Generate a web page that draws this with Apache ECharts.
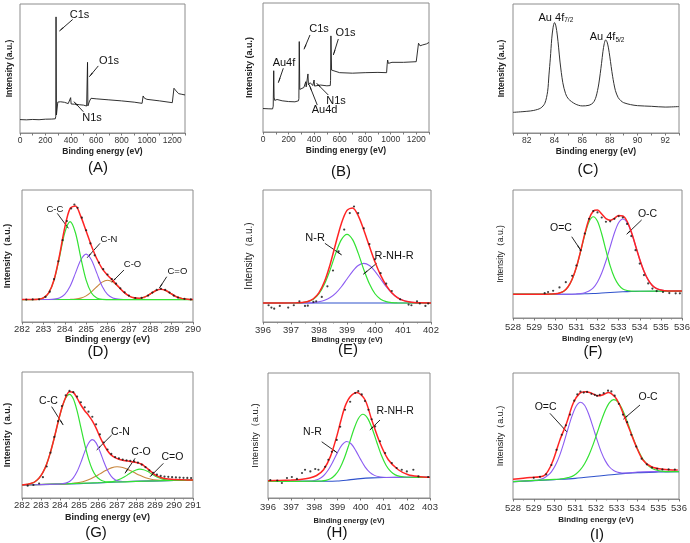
<!DOCTYPE html>
<html><head><meta charset="utf-8">
<script src="https://cdn.jsdelivr.net/npm/echarts@6/dist/echarts.min.js"></script>
<style>html,body{margin:0;padding:0;background:#fff}#c{width:690px;height:543px}</style>
</head><body><div id="c"></div>
<script>
// ---------------- DATA ----------------
// (A) survey spectrum
const aSurvey = [[0,10.4],[50,10.2],[100,10.5],[150,10.3],[200,10.7],[250,10.8],[278,11.0],[282,13],[284,90],[287,14],[292,13],[298,24],[305,25.2],[320,24.2],[350,23.8],[380,22.8],[395,23.2],[399,27.4],[403,22.5],[430,22.3],[470,21.9],[500,21.6],[525,20.9],[529,22],[532,54.8],[535,21],[540,19.6],[548,24.8],[560,26.9],[600,26.5],[700,25.7],[800,24.9],[900,23.9],[962,23.0],[966,24],[970,28.7],[980,27],[1000,26.1],[1100,24.9],[1200,23.5],[1208,23.0],[1213,34.7],[1230,32.6],[1250,30.5],[1275,30],[1300,29.5]];
// (B) survey spectrum
const bSurvey = [[0,18.2],[40,18.0],[75,17.9],[80,20],[84,47.5],[87,27],[92,24.5],[110,25.2],[150,24.2],[200,23.6],[250,23.4],[278,24.2],[281,26],[284,70.1],[288,33],[300,32],[320,34.5],[332,35],[335,39],[338,35],[348,36],[352,45],[356,36.4],[370,38.2],[390,36],[397,36.5],[400,40.3],[404,35.6],[450,36.4],[500,35.8],[527,36],[529,40],[532,74.5],[537,48],[545,46.8],[600,46],[700,45.6],[800,46],[900,46.2],[968,46],[972,52],[976,55.8],[982,53.2],[995,54.5],[1010,54],[1100,54],[1200,54.5],[1212,55],[1218,68.8],[1230,66.8],[1250,67.5],[1280,68.3],[1300,69.4]];
// (C) Au 4f
const cAu4f = [[81,16.0],[82,16.8],[82.5,17.5],[83,19.3],[83.3,23],[83.5,32],[83.6,45],[83.7,58],[83.8,73],[83.9,82],[84.0,85.6],[84.1,83],[84.2,76],[84.3,66],[84.4,55],[84.6,39],[84.8,30.5],[85,26.5],[85.5,22.5],[86,21],[86.5,21.5],[86.8,23.5],[87.0,28],[87.2,38],[87.4,54],[87.5,63],[87.6,69.5],[87.7,72.2],[87.8,70.5],[87.9,66],[88.0,59],[88.2,44],[88.4,33],[88.6,27.5],[88.8,25],[89,23.5],[89.5,22],[90,21.2],[91,20.7],[92,20.1],[93,20.5]];
// (D) C1s
const dBase = [[282,17],[290,17]];
const dCC = [[282,17],[282.75,17.2],[283,18.2],[283.25,22.0],[283.5,31.7],[283.75,48.8],[284,67.6],[284.25,76],[284.5,67.6],[284.75,48.8],[285,31.7],[285.25,22.0],[285.5,18.2],[285.75,17.2],[286.25,17],[290,17]];
const dCN = [[282,17],[283.25,17.1],[283.5,17.3],[283.75,18.2],[284,20.9],[284.25,27.1],[284.5,37],[284.75,47],[285,51.4],[285.25,47],[285.5,37],[285.75,27.1],[286,20.9],[286.25,18.2],[286.5,17.3],[286.75,17.1],[290,17]];
const dCO = [[282,17],[284,17.05],[284.25,17.1],[284.5,17.35],[284.75,18.1],[285,19.8],[285.25,22.8],[285.5,26.7],[285.75,30.2],[286,31.6],[286.25,30.2],[286.5,26.7],[286.75,22.8],[287,19.8],[287.25,18.1],[287.5,17.35],[287.75,17.1],[288,17.05],[290,17]];
const dC2O = [[282,17],[287,17.05],[287.25,17.2],[287.5,17.7],[287.75,18.9],[288,21.2],[288.25,23.7],[288.5,24.8],[288.75,23.7],[289,21.2],[289.25,18.9],[289.5,17.7],[289.75,17.2],[290,17.05]];
const dEnv = [[282,17],[282.5,17.05],[282.75,17.2],[283,18.2],[283.25,22.0],[283.5,32.0],[283.75,50.0],[284,71.5],[284.25,86.1],[284.5,87.9],[284.75,80.0],[285,68.9],[285.25,57.6],[285.5,47.9],[285.75,40.5],[286,35.5],[286.25,31.4],[286.5,27.0],[286.75,22.8],[287,19.8],[287.25,18.3],[287.5,18.05],[287.75,19.0],[288,21.2],[288.25,23.7],[288.5,24.8],[288.75,23.7],[289,21.2],[289.25,18.9],[289.5,17.7],[289.75,17.2],[290,17]];
const dDots = [[282.2,17.0],[282.5,17.1],[282.8,17.2],[283.1,19],[283.3,23],[283.5,32.5],[283.7,46],[283.9,62],[284.1,76.5],[284.3,86],[284.45,89],[284.6,86.5],[284.8,79],[285.0,69.5],[285.2,59.5],[285.4,50.5],[285.6,45],[285.8,40],[286.0,36],[286.2,32.5],[286.4,29],[286.6,25.5],[286.8,22.5],[287.0,20],[287.3,18.2],[287.6,18.3],[287.9,20],[288.1,22.3],[288.3,24.3],[288.5,25.2],[288.7,24.3],[288.9,22.3],[289.1,20],[289.3,18.5],[289.6,17.5],[289.9,17.1]];
// (E) N1s
const eBase = [[396,14.4],[402,14.4]];
const eNR = [[396,14.4],[397.2,14.45],[397.4,14.7],[397.6,15.4],[397.8,17.3],[398,21.4],[398.2,28.9],[398.4,39.7],[398.6,52.2],[398.8,62.4],[399,66.4],[399.2,62.4],[399.4,52.2],[399.6,39.7],[399.8,28.9],[400,21.4],[400.2,17.3],[400.4,15.4],[400.6,14.7],[400.8,14.45],[402,14.4]];
const eRNHR = [[396,14.4],[397.4,14.45],[397.6,14.5],[397.8,14.7],[398,15.3],[398.2,16.4],[398.4,18.5],[398.6,21.9],[398.8,26.7],[399,32.6],[399.2,38.4],[399.4,42.8],[399.6,44.4],[399.8,42.8],[400,38.4],[400.2,32.6],[400.4,26.7],[400.6,21.9],[400.8,18.5],[401,16.4],[401.2,15.3],[401.4,14.7],[401.6,14.5],[402,14.4]];
const eEnv = [[396,14.4],[397.2,14.5],[397.4,14.7],[397.6,15.5],[397.8,17.6],[398,22.3],[398.2,30.9],[398.4,43.8],[398.6,59.7],[398.8,74.7],[399,84.6],[399.2,86.4],[399.4,80.6],[399.6,69.7],[399.8,57.3],[400,45.4],[400.2,35.5],[400.4,27.7],[400.6,22.2],[400.8,18.5],[401,16.4],[401.2,15.3],[401.4,14.7],[401.6,14.5],[402,14.4]];
const eDots = [[396.2,12.7],[396.3,10.9],[396.4,10.1],[396.6,12.2],[396.9,10.9],[397.1,12.7],[397.3,15.7],[397.5,12.2],[397.6,12.4],[397.8,15.2],[397.9,15.7],[398.1,19],[398.3,27],[398.5,39],[398.7,53.5],[398.9,70],[399.1,82.5],[399.25,87.5],[399.4,82.5],[399.6,71],[399.8,59],[400.0,47.5],[400.2,37],[400.4,29],[400.6,23.5],[400.9,17.2],[401.2,13.2],[401.3,12.7],[401.5,15.7],[401.6,14],[401.8,12.2],[401.9,14]];
// (F) O1s
const fBase = [[528,18.6],[530.6,18.6],[531,18.7],[531.4,18.9],[531.8,19.1],[532.2,19.5],[532.6,19.9],[533,20.3],[533.4,20.6],[533.8,20.8],[534.2,20.9],[536,21.0]];
const fOdC = [[528,18.6],[529.6,18.6],[529.8,18.7],[530,18.9],[530.2,19.5],[530.4,20.9],[530.6,24.2],[530.8,30.2],[531,39.5],[531.2,51.9],[531.4,65],[531.6,75.2],[531.8,79.1],[532,75.5],[532.2,65.6],[532.4,52.8],[532.6,40.7],[532.8,31.6],[533,25.9],[533.2,22.7],[533.4,21.5],[533.6,21.0],[533.8,20.9],[536,21.0]];
const fOsC = [[528,18.6],[530.6,18.6],[531,18.8],[531.2,19.1],[531.4,19.8],[531.6,21.1],[531.8,23.5],[532,28.1],[532.2,35.1],[532.4,44.5],[532.6,55.6],[532.8,66.4],[533,74.4],[533.2,77.4],[533.4,74.7],[533.6,67.0],[533.8,56.5],[534,45.7],[534.2,36.5],[534.4,29.7],[534.6,25.3],[534.8,23.0],[535,21.8],[535.2,21.3],[535.4,21.0],[536,21.0]];
const fEnv = [[528,18.6],[529.6,18.6],[529.8,18.7],[530,18.9],[530.2,19.5],[530.4,20.9],[530.6,24.2],[530.8,30.3],[531,39.6],[531.2,52.2],[531.4,65.9],[531.6,77.3],[531.8,83.5],[532,84.3],[532.2,81.2],[532.4,77.6],[532.6,76.4],[532.8,77.9],[533,80.0],[533.2,79.7],[533.4,75.6],[533.6,67.3],[533.8,56.5],[534,45.7],[534.2,36.5],[534.4,29.7],[534.6,25.3],[534.8,23.0],[535,21.8],[535.2,21.3],[535.4,21.0],[536,21.0]];
const fDots = [[529.5,19.4],[529.66,20.3],[529.9,21.3],[530.2,23.9],[530.5,28.0],[530.8,33],[531.0,41],[531.2,53],[531.4,66],[531.6,77.5],[531.8,83.5],[532.0,82.5],[532.2,78.5],[532.4,75.2],[532.6,75.5],[532.8,77.5],[533.0,79.5],[533.2,78.5],[533.4,73.5],[533.6,64],[533.8,53],[534.0,42.5],[534.2,33.5],[534.4,27],[534.6,23],[534.8,21],[535.1,20.3],[535.4,19.5],[535.7,19.3],[535.9,19.3]];
// (G) C1s
const gBase = [[282,10.3],[283,10.6],[284,11.0],[285,11.4],[286,12.0],[287,12.7],[288,13.2],[289,13.6],[290,13.9],[291,14.0]];
const gCC = [[282,10.3],[282.3,10.9],[282.5,11.65],[282.7,13.1],[282.9,15.8],[283.1,20.2],[283.3,27.0],[283.5,36.4],[283.7,47.8],[283.9,60.2],[284.1,71.3],[284.3,79.3],[284.5,82.2],[284.7,78.7],[284.9,69.1],[285.1,55.8],[285.3,42.5],[285.5,31.1],[285.7,22.7],[285.9,17.4],[286.1,14.7],[286.3,13.3],[286.5,12.75],[287,12.7],[288,13.2],[289,13.6],[290,13.9],[291,14.0]];
const gCN = [[282,10.3],[283.9,11.0],[284.1,11.25],[284.3,11.8],[284.5,13.1],[284.7,16.0],[284.9,20.95],[285.1,28.25],[285.3,36.6],[285.5,43.5],[285.7,46.3],[285.9,43.75],[286.1,37.05],[286.3,29.0],[286.5,21.95],[286.7,17.2],[286.9,14.55],[287.1,13.45],[287.3,13.05],[288,13.2],[289,13.6],[290,13.9],[291,14.0]];
const gCO = [[282,10.3],[284.3,11.2],[284.6,11.5],[284.9,12.0],[285.2,12.9],[285.5,14.4],[285.8,16.6],[286.1,19.15],[286.4,21.75],[286.7,23.9],[287,24.8],[287.3,24.25],[287.6,22.5],[287.9,20.25],[288.2,18.0],[288.5,16.1],[288.8,14.9],[289.1,14.3],[289.4,14.0],[289.7,13.9],[291,14.0]];
const gC2O = [[282,10.3],[286.4,12.35],[286.6,12.7],[286.8,13.15],[287,14.0],[287.2,15.2],[287.4,16.8],[287.6,18.8],[287.8,20.8],[288,22.3],[288.2,22.9],[288.4,22.45],[288.6,21.15],[288.8,19.3],[289,17.5],[289.2,16.05],[289.4,15.0],[289.6,14.4],[289.8,14.15],[290,14.0],[291,14.0]];
const gEnv = [[282,10.3],[282.3,10.9],[282.5,11.65],[282.7,13.1],[282.9,15.8],[283.1,20.3],[283.3,27.0],[283.5,36.4],[283.7,47.8],[283.9,60.3],[284.1,71.6],[284.3,80.0],[284.5,84.3],[284.7,83.8],[284.9,79.3],[285.1,73.8],[285.3,69.3],[285.5,65.6],[285.7,61.2],[285.9,55.5],[286.1,48.5],[286.3,42.5],[286.5,37.5],[286.7,34.0],[286.9,32.0],[287.1,30.8],[287.3,30.0],[287.5,29.5],[287.7,29.0],[287.9,28.6],[288.1,27.9],[288.3,26.8],[288.5,24.6],[288.7,22.1],[288.9,19.6],[289.1,17.6],[289.3,16.3],[289.5,15.5],[289.7,15.0],[290,14.6],[290.5,14.4],[291,14.3]];
const gDots = [[282.3,9.8],[282.6,10.3],[282.9,11.5],[283.1,16.5],[283.3,25],[283.5,36],[283.7,48.5],[283.9,61],[284.1,73],[284.3,81.5],[284.5,85],[284.7,84],[284.9,80.5],[285.1,76],[285.3,72],[285.5,68.5],[285.7,64.5],[285.9,58.5],[286.1,50.5],[286.3,44],[286.5,38.5],[286.7,35],[286.9,32.5],[287.1,31.5],[287.3,30.5],[287.5,29.8],[287.7,29.5],[287.9,29],[288.1,28],[288.3,26.5],[288.5,24.5],[288.7,22],[288.9,20],[289.1,18.5],[289.3,17.5],[289.5,17],[289.7,16.8],[289.9,16.5],[290.1,16.3],[290.3,16.2],[290.5,16],[290.7,15.9],[290.9,15.8]];
// (H) N1s
const hBase = [[396,13.3],[398.5,13.35],[399,13.6],[399.5,14.5],[400,15.5],[400.5,16.1],[401,16.4],[401.5,16.5],[403,16.5]];
const hNR = [[396,13.3],[397.8,13.5],[398,14.0],[398.2,15.2],[398.4,17.8],[398.6,22.4],[398.8,28.9],[399,36.3],[399.2,42.5],[399.4,45.2],[399.6,43.2],[399.8,37.7],[400,30.9],[400.2,24.7],[400.4,20.5],[400.6,18.1],[400.8,17.0],[401,16.6],[401.2,16.45],[403,16.5]];
const hRNHR = [[396,13.3],[398.1,13.45],[398.3,13.6],[398.5,14.15],[398.7,15.45],[398.9,18.4],[399.1,23.65],[399.3,32.0],[399.5,42.9],[399.7,54.4],[399.9,63.4],[400.1,67.0],[400.3,63.95],[400.5,55.6],[400.7,44.65],[400.9,34.15],[401.1,26.2],[401.3,21.25],[401.5,18.5],[401.7,17.3],[401.9,16.8],[402.1,16.6],[403,16.5]];
const hEnv = [[396,13.8],[396.5,14.1],[397,14.4],[397.4,14.8],[397.8,16.0],[398.1,18.0],[398.4,22.6],[398.7,33.3],[398.97,49.3],[399.15,62],[399.33,73.3],[399.55,81],[399.84,84.5],[400.19,78.6],[400.48,62.6],[400.84,44],[401.2,30.6],[401.63,22.6],[402.06,18.6],[402.5,17.2],[403,16.5]];
const hDots = [[396.1,14.4],[396.4,14.0],[396.6,12],[396.82,16],[397.03,16.8],[397.25,15.3],[397.47,20],[397.6,22.6],[397.83,21.3],[398.04,23.2],[398.18,22.6],[398.47,25],[398.61,30.6],[398.76,37],[398.97,46.5],[399.12,57],[399.33,70.6],[399.55,77],[399.77,84],[399.9,85.5],[400.05,82.9],[400.19,77.6],[400.34,70.6],[400.48,63],[400.63,57.3],[400.84,45.4],[401.06,36],[401.35,28],[401.56,24],[401.78,22.6],[402.0,21.3],[402.28,22.6],[402.5,17.3],[402.92,16.8]];
// (I) O1s
const iBase = [[528,13.8],[529,14.5],[530,15.4],[531,16.4],[532,18.0],[533,19.7],[534,20.9],[535,21.4],[536,21.7]];
const iOdC = [[528,13.8],[529.05,14.8],[529.25,15.3],[529.45,16.3],[529.65,18.3],[529.85,21.55],[530.05,26.95],[530.25,34.65],[530.45,44.65],[530.65,55.75],[530.85,66.15],[531.05,73.8],[531.25,76.8],[531.45,74.4],[531.65,67.3],[531.85,57.45],[532.05,46.9],[532.25,37.4],[532.45,30.25],[532.65,25.4],[532.85,22.65],[533.05,21.2],[533.25,20.65],[533.45,20.55],[534,21.4],[535,21.8],[536,22.0]];
const iOsC = [[528,13.8],[530.25,15.85],[530.45,16.25],[530.65,16.95],[530.85,17.95],[531.05,20.1],[531.25,23.3],[531.45,28.0],[531.65,34.5],[531.85,42.75],[532.05,52.2],[532.25,61.9],[532.45,70.45],[532.65,76.5],[532.85,78.85],[533.05,77.2],[533.25,71.75],[533.45,63.8],[533.65,54.65],[533.85,45.75],[534.05,38.05],[534.25,31.95],[534.45,27.65],[534.65,24.85],[534.85,23.25],[535.05,22.35],[535.25,21.9],[535.45,21.75],[536,21.8]];
const iEnv = [[528,15.7],[528.82,17],[529.46,18.3],[529.7,22.5],[529.94,31],[530.26,46.9],[530.58,60.1],[530.9,76],[531.22,84],[531.5,85.2],[531.75,84.2],[532.1,81.9],[532.35,82.8],[532.6,84.5],[532.9,81.3],[533.1,76],[533.3,68.2],[533.62,54.9],[533.94,41.6],[534.26,31],[534.67,25.6],[535.22,23.6],[535.94,23]];
const iDots = [[529.0,16.8],[529.3,17.6],[529.6,19.5],[529.85,27],[530.1,39],[530.35,51],[530.55,58.5],[530.75,67],[530.95,78],[531.1,83],[531.25,85.3],[531.41,84.5],[531.57,85],[531.78,83.5],[531.94,82.7],[532.05,81.9],[532.18,82.7],[532.37,84],[532.58,86],[532.74,85.4],[532.9,82],[533.1,75.5],[533.3,67],[533.5,61],[533.7,51],[533.94,41.6],[534.2,32],[534.45,27.5],[534.7,25],[534.95,24],[535.2,23.5],[535.5,23.5],[535.8,23.4]];

// tick labels
const surveyTickLabels = [0,200,400,600,800,1000,1200];
const surveyTickMarks = [0,100,200,300,400,500,600,700,800,900,1000,1100,1200,1300];
const cTickLabels = [82,84,86,88,90,92];
const cTickMarks = [81,82,83,84,85,86,87,88,89,90,91,92,93];

// annotations (text + arrow in data coordinates)
const aNotes = [{t:'C1s',x:469,y:91.5,a:[415,88,310,79]},{t:'O1s',x:701,y:56,a:[617,52,546,43.6]},{t:'N1s',x:567,y:11.6,a:[499,16.5,425,24.3]}];
const bNotes = [{t:'C1s',x:438.6,y:79.8,a:[368,75.2,321,64.1]},{t:'O1s',x:646,y:76.7,a:[590,72.1,551,59.7]},{t:'Au4f',x:164,y:53.9,a:[159,49.4,120,38.2]},{t:'N1s',x:572,y:24,a:[511,28.7,420,37.8]},{t:'Au4d',x:482,y:16.7,a:[425,20.9,363,36.4]}];
const cNotes = [{t:'Au 4f',sub:'7/2',x:84.1,y:89.5},{t:'Au 4f',sub:'5/2',x:87.8,y:74.4}];
const dNotes = [{t:'C-C',x:283.54,y:85.6,a:[283.65,82.3,284.17,71]},{t:'C-N',x:286.07,y:62.9,a:[285.65,59.6,285.05,48.7]},{t:'C-O',x:287.17,y:43.9,a:[286.77,39.4,286.2,30.1]},{t:'C=O',x:289.27,y:38.6,a:[288.77,34.3,288.42,25.5]}];
const eNotes = [{t:'N-R',x:397.86,y:64,a:[398.21,59.6,398.81,50.8]},{t:'R-NH-R',x:400.68,y:50,a:[400.06,44.5,399.58,36.1]}];
const fNotes = [{t:'O=C',x:530.27,y:69.9,a:[530.78,63.5,531.2,53.1]},{t:'O-C',x:534.37,y:81.3,a:[534.09,76.6,533.38,65.4]}];
const gNotes = [{t:'C-C',x:283.39,y:77,a:[283.56,72.5,284.17,57.9]},{t:'C-N',x:287.18,y:52,a:[286.72,50,285.93,38.1]},{t:'C-O',x:288.26,y:36.1,a:[287.95,31.5,287.42,19.6]},{t:'C=O',x:289.92,y:32.1,a:[289.44,27.5,288.74,16.9]}];
const hNotes = [{t:'N-R',x:397.92,y:52.4,a:[398.32,45,398.99,36.2]},{t:'R-NH-R',x:401.49,y:69.6,a:[400.84,62.4,400.4,54.4]}];
const iNotes = [{t:'O=C',x:529.57,y:72.6,a:[529.78,68,530.59,53.4]},{t:'O-C',x:534.51,y:80.6,a:[534.12,74.6,533.32,63.3]}];

// ---------------- STYLE / LAYOUT ----------------
const RED='#ff2424', GREEN='#33e233', PURPLE='#8c5cf2', BROWN='#c8853c', BLUE='#2f52cc', LGREEN='#6fe06f', SURV='#1a1a1a';
const FONT='"Liberation Sans", Arial, Helvetica, sans-serif';
const YN1='Intensity (a.u.)', YN2='Intensity\uFF08a.u.)';

const panels = [
 {tag:'(A)',tagPos:[98,168],rect:[20,4,165,129],xr:[0,1300],labels:surveyTickLabels,ticks:surveyTickMarks,tickFont:8.5,tickMargin:3,xn:[8.5,14],yn:[YN1,'bold',8.5,6],noteSize:11,
  lines:[[aSurvey,SURV,0.9,false]],dots:null,notes:aNotes},
 {tag:'(B)',tagPos:[341,172],rect:[263,3,166,129],xr:[0,1300],labels:surveyTickLabels,ticks:surveyTickMarks,tickFont:8.5,tickMargin:3,xn:[8.5,14],yn:[YN1,'bold',9,9],noteSize:11,
  lines:[[bSurvey,SURV,0.9,false]],dots:null,notes:bNotes},
 {tag:'(C)',tagPos:[588,170],rect:[513,4,166,129],xr:[81,93],labels:cTickLabels,ticks:cTickMarks,tickFont:8.5,tickMargin:3,xn:[8.5,14],yn:[YN1,'bold',8.5,7],noteSize:11,
  lines:[[cAu4f,'#333',1,0.3]],dots:null,notes:cNotes},
 {tag:'(D)',tagPos:[98,352],rect:[22,190,171,132],xr:[282,290],interval:1,tickFont:9.5,tickMargin:2,xn:[9,13],yn:[YN2,'bold',9,10],noteSize:9.5,
  lines:[[dBase,LGREEN,1,false],[dCO,BROWN,1.1,0.3],[dC2O,GREEN,1.1,0.3],[dCN,PURPLE,1.1,0.3],[dCC,GREEN,1.2,0.3],[dEnv,RED,1.5,0.3]],dots:dDots,notes:dNotes},
 {tag:'(E)',tagPos:[348,350],rect:[263,190,168,132],xr:[396,402],interval:1,tickFont:9.5,tickMargin:3,xn:[7.5,14],yn:[YN2,'normal',10,9],noteSize:11,
  lines:[[eBase,BLUE,1.1,false],[eRNHR,PURPLE,1.1,0.3],[eNR,GREEN,1.2,0.3],[eEnv,RED,1.5,0.3]],dots:eDots,notes:eNotes},
 {tag:'(F)',tagPos:[593,352],rect:[513,190,169,128],xr:[528,536],interval:1,tickFont:9.5,tickMargin:4,xn:[7.5,17],yn:[YN2,'normal',8.5,8],noteSize:10.5,
  lines:[[fBase,BLUE,1.1,0.3],[fOsC,PURPLE,1.1,0.3],[fOdC,GREEN,1.2,0.3],[fEnv,RED,1.5,0.3]],dots:fDots,notes:fNotes},
 {tag:'(G)',tagPos:[96,533],rect:[22,372,171,126],xr:[282,291],interval:1,tickFont:9.5,tickMargin:2,xn:[9,15],yn:[YN2,'bold',9,10],noteSize:10.5,
  lines:[[gBase,BLUE,1.1,0.3],[gCO,BROWN,1.1,0.3],[gC2O,GREEN,1.1,0.3],[gCN,PURPLE,1.1,0.3],[gCC,GREEN,1.2,0.3],[gEnv,RED,1.5,0.3]],dots:gDots,notes:gNotes},
 {tag:'(H)',tagPos:[337,533],rect:[268,373,162,125],xr:[396,403],interval:1,tickFont:9.5,tickMargin:4,xn:[7.5,19],yn:[YN2,'normal',9.5,8],noteSize:10.5,
  lines:[[hBase,BLUE,1.1,0.3],[hNR,PURPLE,1.1,0.3],[hRNHR,GREEN,1.2,0.3],[hEnv,RED,1.5,0.3]],dots:hDots,notes:hNotes},
 {tag:'(I)',tagPos:[597,535],rect:[513,373,166,126],xr:[528,536],interval:1,tickFont:9.5,tickMargin:4,xn:[8,17],yn:[YN2,'normal',9,8],noteSize:10.5,
  lines:[[iBase,BLUE,1.1,0.3],[iOdC,PURPLE,1.1,0.3],[iOsC,GREEN,1.2,0.3],[iEnv,RED,1.5,0.3]],dots:iDots,notes:iNotes}
];

const AX='#8c8c8c';
const grids=[], xAxes=[], yAxes=[], series=[], graphics=[];
panels.forEach((p,i)=>{
  grids.push({left:p.rect[0],top:p.rect[1],width:p.rect[2],height:p.rect[3],show:true,borderColor:AX,borderWidth:1,containLabel:false,outerBoundsMode:'none'});
  const xa = {gridIndex:i,type:'value',min:p.xr[0],max:p.xr[1],
    axisLine:{show:true,onZero:false,lineStyle:{color:AX,width:1}},
    axisTick:{show:true,length:2.5,inside:false,lineStyle:{color:'#777'}},
    minorTick:{show:!p.ticks,splitNumber:2,length:1.5,lineStyle:{color:'#888'}},
    axisLabel:{fontSize:p.tickFont,color:'#333',margin:p.tickMargin,fontFamily:FONT,showMinLabel:true,showMaxLabel:true,formatter:v=>String(v)},
    splitLine:{show:false},minorSplitLine:{show:false},
    name:'Binding energy (eV)',nameLocation:'middle',nameGap:p.xn[1],
    nameTextStyle:{fontWeight:'bold',fontSize:p.xn[0],color:'#222',fontFamily:FONT}};
  if(p.interval) xa.interval=p.interval;
  if(p.labels){ xa.axisLabel.customValues=p.labels; xa.axisTick.customValues=p.ticks; }
  xAxes.push(xa);
  yAxes.push({gridIndex:i,type:'value',min:0,max:100,axisLine:{show:false},axisTick:{show:false},axisLabel:{show:false},splitLine:{show:false},
    name:p.yn[0],nameLocation:'middle',nameGap:p.yn[3],
    nameTextStyle:{fontWeight:p.yn[1],fontSize:p.yn[2],color:'#222',fontFamily:FONT}});
  p.lines.forEach((l,k)=>{
    series.push({type:'line',xAxisIndex:i,yAxisIndex:i,data:l[0],smooth:l[3],showSymbol:false,symbol:'none',
      lineStyle:{color:l[1],width:l[2]},itemStyle:{color:l[1]},z:2+k,silent:true,animation:false,clip:true});
  });
  if(p.dots){
    series.push({type:'scatter',xAxisIndex:i,yAxisIndex:i,data:p.dots,symbol:'circle',symbolSize:2.2,itemStyle:{color:'#111'},z:20,silent:true,animation:false});
  }
  // annotation carrier
  series.push({type:'line',xAxisIndex:i,yAxisIndex:i,data:[],silent:true,animation:false,z:30,
    markPoint:{symbol:'circle',symbolSize:1,itemStyle:{color:'rgba(0,0,0,0)'},silent:true,animation:false,
      label:{show:true,position:'inside',color:'#111',fontSize:p.noteSize,fontFamily:FONT,
        rich:{m:{fontSize:p.noteSize,color:'#111',fontFamily:FONT},s:{fontSize:6.5,color:'#111',fontFamily:FONT,padding:[6,0,0,0]}}},
      data:p.notes.map(n=>({coord:[n.x,n.y],name:n.t,label:{formatter:n.sub?('{m|'+n.t+'}{s|'+n.sub+'}'):n.t}}))},
    markLine:{silent:true,animation:false,symbol:['none','arrow'],symbolSize:[1,5.5],
      lineStyle:{color:'#111',width:0.9,type:'solid'},label:{show:false},
      data:p.notes.filter(n=>n.a).map(n=>[{coord:[n.a[0],n.a[1]]},{coord:[n.a[2],n.a[3]]}])}
  });
  graphics.push({type:'text',x:p.tagPos[0],y:p.tagPos[1],style:{text:p.tag,font:'15px '+FONT,fill:'#111',align:'center',verticalAlign:'middle',textAlign:'center',textVerticalAlign:'middle'}});
});

const chart = echarts.init(document.getElementById('c'),null,{renderer:'canvas'});
chart.setOption({animation:false,backgroundColor:'#fff',textStyle:{fontFamily:FONT},
  grid:grids,xAxis:xAxes,yAxis:yAxes,series:series,graphic:graphics});
</script></body></html>
